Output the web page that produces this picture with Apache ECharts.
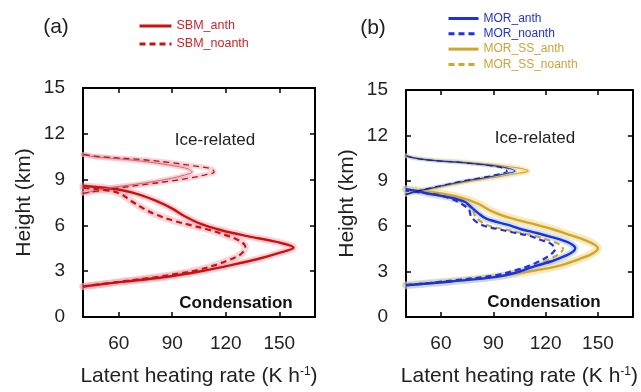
<!DOCTYPE html>
<html>
<head>
<meta charset="utf-8">
<script src="https://cdn.jsdelivr.net/npm/echarts@6/dist/echarts.min.js"></script>
<style>
  html, body { margin: 0; padding: 0; background: #fff; }
  #chart { width: 641px; height: 392px; }
</style>
</head>
<body>
<div id="chart"></div>
<script>
// Latent heating rate profiles (K h-1) against height (km)

const xTicks = [60, 90, 120, 150];

// ---- Panel (a): SBM ----
// condensation layer
const sbmAnthCondH    = [2.0, 2.3, 2.6, 3.0, 3.4, 3.8, 4.2, 4.55, 4.9, 5.3, 5.7, 6.1, 6.6, 7.1, 7.6, 8.0, 8.3, 8.45, 8.6];
const sbmAnthCondRate = [40, 62, 85, 106, 123, 138, 150, 158, 149, 132, 117, 106, 97, 90, 81, 72, 62, 53, 40];
const sbmNoCondH      = [2.0, 2.3, 2.6, 2.85, 3.1, 3.4, 3.7, 4.0, 4.3, 4.6, 4.9, 5.1, 5.4, 5.7, 6.0, 6.3, 6.7, 7.1, 7.6, 8.0, 8.25, 8.45];
const sbmNoCondRate   = [40, 60, 80, 94, 105, 114, 121, 127, 130, 131, 129, 126, 119, 111, 101, 91, 81, 74, 67, 62, 56, 40];
// ice-related layer
const sbmIceH         = [8.1, 8.3, 8.5, 8.7, 8.9, 9.1, 9.3, 9.5, 9.7, 9.9, 10.1, 10.3, 10.5, 10.65];
const sbmAnthIceRate  = [40, 48, 57, 70, 81, 90, 97, 101, 99, 91, 80, 66, 46, 40];
const sbmNoIceRate    = [40, 51, 63, 76, 89, 100, 108, 113.5, 112, 102, 90, 74, 50, 40];

// ---- Panel (b): MOR / MOR_SS ----
const morAnthCondH    = [2.1, 2.35, 2.65, 3.0, 3.4, 3.7, 4.05, 4.3, 4.55, 4.8, 5.0, 5.3, 5.55, 5.8, 6.1, 6.5, 6.9, 7.3, 7.6, 7.9, 8.1, 8.3, 8.45];
const morAnthCondRate = [40, 66, 92, 105, 115, 124, 131.5, 135.5, 137, 135, 131.5, 123, 115, 106, 98, 86, 81, 77, 74, 65, 55, 47, 40];
const morNoCondH      = [2.1, 2.4, 2.77, 3.1, 3.4, 3.75, 4.05, 4.3, 4.5, 4.7, 4.9, 5.1, 5.35, 5.6, 5.8, 6.1, 6.6, 7.1, 7.6, 7.85, 8.05, 8.2, 8.35];
const morNoCondRate   = [40, 66, 92, 103, 111, 117.5, 122, 124.5, 125.5, 124.5, 122, 117, 111, 101, 93, 83, 77.5, 76, 70, 65, 59, 50, 40];
const ssAnthCondH     = [2.1, 2.35, 2.65, 3.0, 3.4, 3.9, 4.2, 4.55, 4.85, 5.2, 5.5, 5.8, 6.2, 6.6, 7.0, 7.5, 7.9, 8.2, 8.45];
const ssAnthCondRate  = [40, 65, 90, 110, 128, 141, 147, 150, 147, 140, 132, 124, 111, 98, 89, 81, 71, 58, 40];
const ssNoCondRate    = [40, 66, 92, 104, 114, 121, 126, 129, 130, 129, 126, 121, 114, 104, 96, 86, 80, 78, 72, 66, 59, 50, 40];
// ice-related layer
const morIceH         = [8.1, 8.3, 8.5, 8.75, 9.0, 9.2, 9.45, 9.65, 9.85, 10.0, 10.2, 10.35, 10.5, 10.65];
const morAnthIceRate  = [40, 46, 54, 64, 75, 85, 96, 102.5, 98, 90, 73, 55, 45, 40];
const morNoIceRate    = [40, 46, 53, 63, 73, 83, 93, 98, 95, 88, 72, 55, 45, 40];
const ssAnthIceRate   = [40, 47, 56, 66, 78, 89, 102, 110, 104, 94, 76, 57, 46, 40];
const ssNoIceRate     = [40, 46, 54, 64, 74, 84, 95, 100, 97, 89, 73, 55, 45, 40];

const FONT = 'Liberation Sans, Arial, sans-serif';
const RED = '#d10f0f', BLUE = '#1e2fe6', GOLD = '#cfa52c';
const BAND_RED = 'rgba(236,160,172,0.45)';
const BAND_BLUE = 'rgba(150,195,240,0.45)';
const BAND_GOLD = 'rgba(242,214,120,0.5)';

function pairs(rate, h) { return rate.map((v, i) => [v, h[i]]); }

function profile(name, rate, h, panel, color, dashed, width, z) {
  return {
    type: 'line', name: name,
    xAxisIndex: panel * 2, yAxisIndex: panel * 2,
    data: pairs(rate, h),
    smooth: 0.35, showSymbol: false, symbol: 'none', silent: true,
    lineStyle: { color: color, width: width, type: dashed ? [6, 4] : 'solid' },
    itemStyle: { color: color },
    z: z || 3
  };
}
function band(name, rate, h, panel, color, width) {
  return {
    type: 'line', name: name,
    xAxisIndex: panel * 2, yAxisIndex: panel * 2,
    data: pairs(rate, h),
    smooth: 0.35, showSymbol: false, symbol: 'none', silent: true,
    lineStyle: { color: color, width: width, cap: 'round', join: 'round' },
    z: 1
  };
}

const frame = { show: true, onZero: false, lineStyle: { color: '#000', width: 2 } };
const tickIn = { show: true, inside: true, length: 5, lineStyle: { color: '#000', width: 1.5 } };

function xAxes(gi) {
  return [
    {
      type: 'value', gridIndex: gi, min: 40, max: 170, position: 'bottom',
      axisLine: frame,
      axisTick: Object.assign({ customValues: xTicks }, tickIn),
      axisLabel: { customValues: xTicks, margin: 17, fontSize: 19, color: '#222', fontFamily: FONT },
      splitLine: { show: false },
      name: 'Latent heating rate (K h{sup|-1})', nameLocation: 'middle', nameGap: 49,
      nameTextStyle: {
        fontSize: 21, color: '#222', fontFamily: FONT,
        rich: { sup: { fontSize: 12, verticalAlign: 'top', color: '#222', fontFamily: FONT, padding: [0, 0, 9, 0] } }
      }
    },
    {
      type: 'value', gridIndex: gi, min: 40, max: 170, position: 'top',
      axisLine: frame,
      axisTick: Object.assign({ customValues: xTicks }, tickIn),
      axisLabel: { show: false }, splitLine: { show: false }
    }
  ];
}
function yAxes(gi) {
  return [
    {
      type: 'value', gridIndex: gi, min: 0, max: 15, interval: 3, position: 'left',
      axisLine: frame, axisTick: tickIn,
      axisLabel: { margin: 18, fontSize: 19, color: '#222', fontFamily: FONT },
      splitLine: { show: false },
      name: 'Height (km)', nameLocation: 'middle', nameGap: 48,
      nameTextStyle: { fontSize: 21, color: '#222', fontFamily: FONT }
    },
    {
      type: 'value', gridIndex: gi, min: 0, max: 15, interval: 3, position: 'right',
      axisLine: frame, axisTick: tickIn,
      axisLabel: { show: false }, splitLine: { show: false }
    }
  ];
}

const series = [
  // panel (a) spread shading
  band('SBM_anth spread', sbmAnthCondRate, sbmAnthCondH, 0, BAND_RED, 7),
  band('SBM_noanth spread', sbmNoCondRate, sbmNoCondH, 0, BAND_RED, 7),
  band('SBM_anth ice spread', sbmAnthIceRate, sbmIceH, 0, BAND_RED, 5),
  band('SBM_noanth ice spread', sbmNoIceRate, sbmIceH, 0, BAND_RED, 5),
  // panel (a) profiles
  profile('SBM_anth', sbmAnthCondRate, sbmAnthCondH, 0, RED, false, 2.4),
  profile('SBM_noanth', sbmNoCondRate, sbmNoCondH, 0, RED, true, 2.2),
  profile('SBM_anth', sbmAnthIceRate, sbmIceH, 0, '#e0606a', false, 1),
  profile('SBM_noanth', sbmNoIceRate, sbmIceH, 0, '#b01818', true, 1.3),

  // panel (b) spread shading
  band('MOR_SS_anth spread', ssAnthCondRate, ssAnthCondH, 1, BAND_GOLD, 8),
  band('MOR_anth spread', morAnthCondRate, morAnthCondH, 1, BAND_BLUE, 7),
  band('MOR_SS_anth ice spread', ssAnthIceRate, morIceH, 1, BAND_GOLD, 5),
  band('MOR_anth ice spread', morAnthIceRate, morIceH, 1, BAND_BLUE, 4),
  // panel (b) profiles
  profile('MOR_anth', morAnthCondRate, morAnthCondH, 1, BLUE, false, 2.4, 5),
  profile('MOR_noanth', morNoCondRate, morNoCondH, 1, BLUE, true, 2.2, 5),
  profile('MOR_SS_anth', ssAnthCondRate, ssAnthCondH, 1, GOLD, false, 2.4, 4),
  profile('MOR_SS_noanth', ssNoCondRate, morNoCondH, 1, GOLD, true, 2.2, 4),
  profile('MOR_SS_anth', ssAnthIceRate, morIceH, 1, GOLD, false, 1.2, 4),
  profile('MOR_SS_noanth', ssNoIceRate, morIceH, 1, GOLD, true, 1.1, 4),
  profile('MOR_anth', morAnthIceRate, morIceH, 1, BLUE, false, 1.1, 5),
  profile('MOR_noanth', morNoIceRate, morIceH, 1, '#1a237e', true, 1.2, 5)
];

const chart = echarts.init(document.getElementById('chart'), null, { renderer: 'canvas' });
chart.setOption({
  backgroundColor: '#fff',
  animation: false,
  grid: [
    { left: 83, top: 88, width: 232, height: 231 },
    { left: 406, top: 90, width: 231, height: 233 }
  ],
  xAxis: xAxes(0).concat(xAxes(1)),
  yAxis: yAxes(0).concat(yAxes(1)),
  legend: [
    {
      orient: 'vertical', left: 133, top: 14, itemWidth: 32, itemHeight: 12, itemGap: 4,
      selectedMode: false,
      itemStyle: { opacity: 0 },
      lineStyle: { width: 3 },
      textStyle: { fontSize: 12.5, lineHeight: 14, fontFamily: FONT },
      data: [
        { name: 'SBM_anth', textStyle: { color: '#c8262a' } },
        { name: 'SBM_noanth', textStyle: { color: '#c8262a' } }
      ]
    },
    {
      orient: 'vertical', left: 442, top: 7, itemWidth: 30, itemHeight: 11, itemGap: 2.3,
      selectedMode: false,
      itemStyle: { opacity: 0 },
      lineStyle: { width: 3 },
      textStyle: { fontSize: 12, lineHeight: 13, fontFamily: FONT },
      data: [
        { name: 'MOR_anth', textStyle: { color: '#2233cc' } },
        { name: 'MOR_noanth', textStyle: { color: '#2233cc' } },
        { name: 'MOR_SS_anth', textStyle: { color: '#c9a43a' } },
        { name: 'MOR_SS_noanth', textStyle: { color: '#c9a43a' } }
      ]
    }
  ],
  graphic: [
    { type: 'text', style: { text: '(a)', x: 56, y: 27, align: 'center', verticalAlign: 'middle', fontSize: 21, fill: '#222', fontFamily: FONT } },
    { type: 'text', style: { text: '(b)', x: 373, y: 28, align: 'center', verticalAlign: 'middle', fontSize: 21, fill: '#222', fontFamily: FONT } },
    { type: 'text', style: { text: 'Ice-related', x: 215, y: 140, align: 'center', verticalAlign: 'middle', fontSize: 17, fill: '#222', fontFamily: FONT } },
    { type: 'text', style: { text: 'Ice-related', x: 535, y: 138, align: 'center', verticalAlign: 'middle', fontSize: 17, fill: '#222', fontFamily: FONT } },
    { type: 'text', style: { text: 'Condensation', x: 236, y: 303, align: 'center', verticalAlign: 'middle', fontSize: 17, fontWeight: 'bold', fill: '#111', fontFamily: FONT } },
    { type: 'text', style: { text: 'Condensation', x: 544, y: 302, align: 'center', verticalAlign: 'middle', fontSize: 17, fontWeight: 'bold', fill: '#111', fontFamily: FONT } }
  ],
  series: series
});
</script>
</body>
</html>
